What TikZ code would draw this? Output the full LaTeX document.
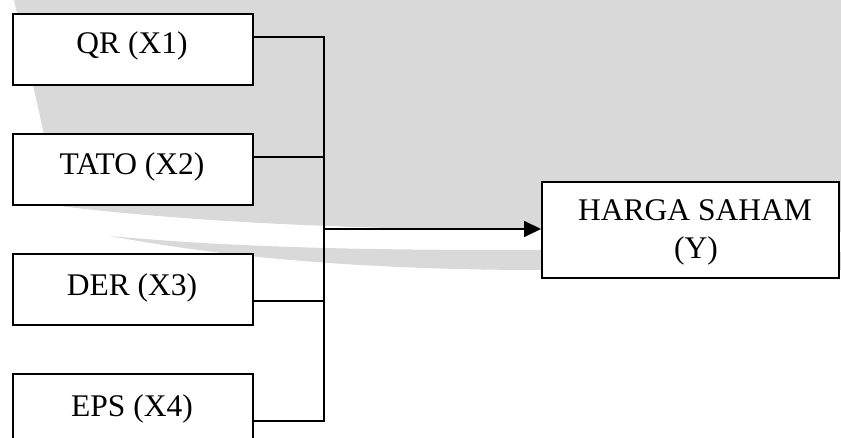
\documentclass[tikz,border=0pt]{standalone}
\usepackage{fontspec}
\setmainfont{Liberation Serif}
\usetikzlibrary{arrows.meta}
\definecolor{wmgrey}{RGB}{217,217,217}
\begin{document}
\begin{tikzpicture}[x=1pt,y=-1pt,
  varbox/.style={draw=black,line width=1.8pt,fill=white,minimum width=240pt,minimum height=71pt,anchor=north west,inner sep=0pt},
  lbl/.style={font=\fontsize{31.5}{38}\selectfont,anchor=base,inner sep=0pt},
  link/.style={line width=1.8pt}]
\useasboundingbox (0,0) rectangle (841,438);
% watermark background (approximate)
\fill[wmgrey] (14,0) -- (841,0) -- (841,232) -- (541,230)
  .. controls (420,230) and (220,226) .. (60,206) -- (14,0) -- cycle;
\fill[wmgrey] (110,236) .. controls (260,264) and (420,270) .. (541,270) -- (841,270) -- (841,252) -- (541,250)
  .. controls (420,250) and (260,250) .. (110,236) -- cycle;
% variable boxes
\node[varbox] (b1) at (12,13) {};
\node[varbox] (b2) at (12,133) {};
\node[varbox] (b3) at (12,253) {};
\node[varbox] (b4) at (12,373) {};
\node[lbl] (t1) at (132,54) {QR (X1)};
\node[lbl] (t2) at (132,175) {TATO (X2)};
\node[lbl] (t3) at (132,296) {DER (X3)};
\node[lbl] (t4) at (132,416) {EPS (X4)};
% target box
\node[draw=black,line width=1.8pt,fill=white,minimum width=297pt,minimum height=96pt,anchor=north west,inner sep=0pt] (hy) at (541,181) {};
\node[lbl] (hy1) at (695,221) {HARGA SAHAM};
\node[lbl] (hy2) at (696,259) {(Y)};
% connectors
\coordinate (j1) at (324,37);
\coordinate (j2) at (324,157);
\coordinate (j3) at (324,301);
\coordinate (j4) at (324,421);
\coordinate (jm) at (324,229);
\draw[link] (b1.east |- j1) -- (j1);
\draw[link] (b2.east |- j2) -- (j2);
\draw[link] (b3.east |- j3) -- (j3);
\draw[link] (b4.east |- j4) -- (j4);
\draw[link,line cap=rect] (j1) -- (j4);
\draw[link,-{Triangle[length=17pt,width=16pt]}] (jm) -- (hy.west |- jm);
\end{tikzpicture}
\end{document}
